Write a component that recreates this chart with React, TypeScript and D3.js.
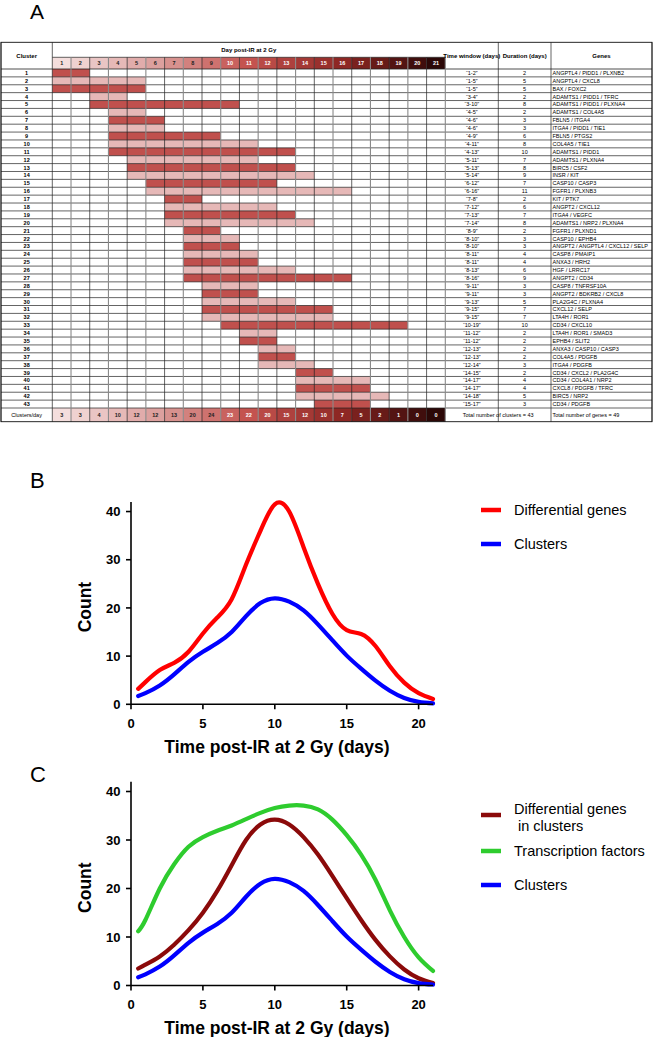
import React from 'react';
import * as d3 from 'd3';

// ---------- Panel A data ----------
const days = [1, 2, 3, 4, 5, 6, 7, 8, 9, 10, 11, 12, 13, 14, 15, 16, 17, 18, 19, 20, 21];
const clusterIds = [
  1, 2, 3, 4, 5, 6, 7, 8, 9, 10, 11, 12, 13, 14, 15, 16, 17, 18, 19, 20, 21, 22,
  23, 24, 25, 26, 27, 28, 29, 30, 31, 32, 33, 34, 35, 36, 37, 38, 39, 40, 41, 42, 43,
];
const windowStart = [1, 1, 1, 3, 3, 4, 4, 4, 4, 4, 4, 5, 5, 5, 6, 6, 7, 7, 7, 7, 8, 8, 8, 8, 8, 8, 8, 9, 9, 9, 9, 9, 10, 11, 11, 12, 12, 12, 14, 14, 14, 14, 15];
const windowEnd = [2, 5, 5, 4, 10, 5, 6, 6, 9, 11, 13, 11, 13, 14, 12, 16, 8, 12, 13, 14, 9, 10, 10, 11, 11, 13, 16, 11, 11, 13, 15, 15, 19, 12, 12, 13, 13, 14, 15, 17, 17, 18, 17];
const durations = [2, 5, 5, 2, 8, 2, 3, 3, 6, 8, 10, 7, 8, 9, 7, 11, 2, 6, 7, 8, 2, 3, 3, 4, 4, 6, 9, 3, 3, 5, 7, 7, 10, 2, 2, 2, 2, 3, 2, 4, 4, 5, 3];
const genes = [
  'ANGPTL4 / PIDD1 / PLXNB2', 'ANGPTL4 / CXCL8', 'BAX / FOXC2', 'ADAMTS1 / PIDD1 / TFRC',
  'ADAMTS1 / PIDD1 / PLXNA4', 'ADAMTS1 / COL4A5', 'FBLN5 / ITGA4', 'ITGA4 / PIDD1 / TIE1',
  'FBLN5 / PTGS2', 'COL4A5 / TIE1', 'ADAMTS1 / PIDD1', 'ADAMTS1 / PLXNA4', 'BIRC5 / CSF2',
  'INSR / KIT', 'CASP10 / CASP3', 'FGFR1 / PLXNB3', 'KIT / PTK7', 'ANGPT2 / CXCL12',
  'ITGA4 / VEGFC', 'ADAMTS1 / NRP2 / PLXNA4', 'FGFR1 / PLXND1', 'CASP10 / EPHB4',
  'ANGPT2 / ANGPTL4 / CXCL12 / SELP', 'CASP8 / PMAIP1', 'ANXA3 / HRH2', 'HGF / LRRC17',
  'ANGPT2 / CD34', 'CASP8 / TNFRSF10A', 'ANGPT2 / BDKRB2 / CXCL8', 'PLA2G4C / PLXNA4',
  'CXCL12 / SELP', 'LTA4H / ROR1', 'CD34 / CXCL10', 'LTA4H / ROR1 / SMAD3', 'EPHB4 / SLIT2',
  'ANXA3 / CASP10 / CASP3', 'COL4A5 / PDGFB', 'ITGA4 / PDGFB', 'CD34 / CXCL2 / PLA2G4C',
  'CD34 / COL4A1 / NRP2', 'CXCL8 / PDGFB / TFRC', 'BIRC5 / NRP2', 'CD34 / PDGFB',
];
const clustersPerDay = [3, 3, 4, 10, 12, 12, 13, 20, 24, 23, 22, 20, 15, 12, 10, 7, 5, 2, 1, 0, 0];
const totalClustersLabel = 'Total number of clusters = 43';
const totalGenesLabel = 'Total number of genes = 49';

// ---------- Panels B & C data ----------
const curveDays = [0.5, 1, 2, 3, 4, 5, 6, 7, 8, 9, 10, 11, 12, 13, 14, 15, 16, 17, 18, 19, 20, 21];
const diffGenes = [3.2, 4.6, 7.1, 8.6, 10.9, 14.7, 18.0, 21.8, 29.0, 36.0, 41.5, 40.0, 32.6, 25.0, 18.8, 15.4, 14.6, 12.1, 7.9, 4.5, 2.3, 1.1];
const clusterCurve = [1.7, 2.3, 3.9, 6.2, 8.8, 10.9, 12.7, 15.0, 18.3, 21.0, 22.0, 21.3, 19.5, 16.6, 13.3, 10.1, 7.4, 4.9, 2.8, 1.3, 0.5, 0.2];
const diffGenesInClusters = [3.5, 4.3, 6.0, 8.4, 11.4, 15.0, 19.5, 24.8, 30.0, 33.2, 34.2, 33.2, 30.6, 27.0, 22.6, 18.0, 13.5, 9.4, 6.0, 3.3, 1.5, 0.5];
const transcriptionFactors = [11.2, 13.5, 20.0, 25.0, 28.6, 30.6, 31.9, 33.0, 34.3, 35.6, 36.6, 37.1, 37.1, 36.3, 34.2, 31.0, 27.0, 21.8, 15.5, 10.0, 5.8, 3.0];
const xTicks = [0, 5, 10, 15, 20];
const yTicks = [0, 10, 20, 30, 40];

const TFONT = "'Liberation Sans Narrow', 'Liberation Sans', Arial, sans-serif";
const CFONT = "'Liberation Sans', Arial, Helvetica, sans-serif";

function Table() {
  const left = 1;
  const right = 652;
  const clusterRight = 52.3;
  const dayRight = 445.3;
  const twRight = 498.3;
  const durRight = 551;
  const headTop = 42.3;
  const dayRowTop = 57.3;
  const rowsTop = 69;
  const rowsBottom = 408;
  const bottomRowBottom = 421.7;

  const x = d3.scaleBand<number>().domain(days).range([clusterRight, dayRight]).padding(0);
  const y = d3.scaleBand<number>().domain(clusterIds).range([rowsTop, rowsBottom]).padding(0);
  const dayColor = d3
    .scaleLinear<string>()
    .domain([1, 6, 11, 16, 21])
    .range(['#F4DEDD', '#DCA09E', '#C4534F', '#8E2724', '#2C0807'])
    .interpolate(d3.interpolateRgb);
  const dark = '#C0504D';
  const light = '#E6B8B7';
  const bw = x.bandwidth();
  const rh = y.bandwidth();

  const vLines: number[] = [left, clusterRight, ...days.map((d) => (x(d) as number) + bw), twRight, durRight, right];

  return (
    <g fontFamily={TFONT}>
      {days.map((d) => (
        <rect key={'h' + d} x={x(d)} y={dayRowTop} width={bw} height={rowsTop - dayRowTop} fill={dayColor(d)} />
      ))}
      {days.map((d) => (
        <rect key={'b' + d} x={x(d)} y={rowsBottom} width={bw} height={bottomRowBottom - rowsBottom} fill={dayColor(d)} />
      ))}
      {clusterIds.map((c, i) => (
        <rect
          key={'bar' + c}
          x={x(windowStart[i])}
          y={y(c)}
          width={(x(windowEnd[i]) as number) + bw - (x(windowStart[i]) as number)}
          height={rh}
          fill={i % 2 === 0 ? dark : light}
        />
      ))}
      {clusterIds.map((c) => (
        <line key={'hl' + c} x1={left} x2={right} y1={(y(c) as number) + rh} y2={(y(c) as number) + rh} stroke="#222" strokeWidth={0.7} />
      ))}
      <line x1={left} x2={right} y1={rowsTop} y2={rowsTop} stroke="#222" strokeWidth={0.8} />
      <line x1={clusterRight} x2={dayRight} y1={dayRowTop} y2={dayRowTop} stroke="#222" strokeWidth={0.7} />
      {vLines.map((vx, i) => (
        <line
          key={'vl' + i}
          x1={vx}
          x2={vx}
          y1={i > 1 && i < vLines.length - 3 ? dayRowTop : headTop}
          y2={bottomRowBottom}
          stroke={i > 1 && i < vLines.length - 3 && i % 2 === 0 ? '#8a8a8a' : '#222'}
          strokeWidth={i > 1 && i < vLines.length - 3 && i % 2 === 0 ? 1.1 : 0.7}
        />
      ))}
      <rect x={left} y={headTop} width={right - left} height={bottomRowBottom - headTop} fill="none" stroke="#111" strokeWidth={0.9} />

      <text x={(left + clusterRight) / 2} y={57.5} textAnchor="middle" fontSize={6} fontWeight="bold">Cluster</text>
      <text x={(clusterRight + dayRight) / 2} y={52} textAnchor="middle" fontSize={6} fontWeight="bold">Day post-IR at 2 Gy</text>
      <text x={(dayRight + twRight) / 2} y={57.5} textAnchor="middle" fontSize={6} fontWeight="bold">Time window (days)</text>
      <text x={(twRight + durRight) / 2} y={57.5} textAnchor="middle" fontSize={6} fontWeight="bold">Duration (days)</text>
      <text x={(durRight + right) / 2} y={57.5} textAnchor="middle" fontSize={6} fontWeight="bold">Genes</text>
      {days.map((d) => (
        <text key={'ht' + d} x={(x(d) as number) + bw / 2} y={65.2} textAnchor="middle" fontSize={5.5} fontWeight="bold" fill={d >= 10 ? '#fff' : '#222'}>
          {d}
        </text>
      ))}

      {clusterIds.map((c, i) => {
        const cy = (y(c) as number) + rh / 2 + 2;
        return (
          <g key={'rt' + c} fontSize={5.5}>
            <text x={(left + clusterRight) / 2} y={cy} textAnchor="middle" fontWeight="bold">{c}</text>
            <text x={(dayRight + twRight) / 2} y={cy} textAnchor="middle">{`\u201C${windowStart[i]}-${windowEnd[i]}\u201D`}</text>
            <text x={(twRight + durRight) / 2} y={cy} textAnchor="middle">{durations[i]}</text>
            <text x={durRight + 1.5} y={cy}>{genes[i]}</text>
          </g>
        );
      })}

      <text x={(left + clusterRight) / 2} y={416.8} textAnchor="middle" fontSize={5.5}>Clusters/day</text>
      {days.map((d, i) => (
        <text key={'bt' + d} x={(x(d) as number) + bw / 2} y={416.8} textAnchor="middle" fontSize={5.5} fontWeight="bold" fill={d >= 10 ? '#fff' : '#222'}>
          {clustersPerDay[i]}
        </text>
      ))}
      <text x={(dayRight + durRight) / 2} y={416.8} textAnchor="middle" fontSize={5.5}>{totalClustersLabel}</text>
      <text x={durRight + 1.5} y={416.8} fontSize={5.5}>{totalGenesLabel}</text>
    </g>
  );
}

type Series = { values: number[]; color: string };
type LegendItem = { lines: string[]; color: string; y: number };

function CurvePanel({ yTop, yZero, series, legend }: { yTop: number; yZero: number; series: Series[]; legend: LegendItem[] }) {
  const x = d3.scaleLinear().domain([0, 21]).range([131, 433]);
  const y = d3.scaleLinear().domain([0, 42]).range([yZero, yTop]);
  const line = d3
    .line<number>()
    .x((_, i) => x(curveDays[i]))
    .y((d) => y(d))
    .curve(d3.curveNatural);
  return (
    <g fontFamily={CFONT}>
      {series.map((s, i) => (
        <path key={i} d={line(s.values) || ''} fill="none" stroke={s.color} strokeWidth={4.2} strokeLinecap="round" strokeLinejoin="round" />
      ))}
      <line x1={x(0)} x2={x(0)} y1={y(42)} y2={y(0)} stroke="#000" strokeWidth={1.6} />
      <line x1={x(0)} x2={x(21)} y1={y(0)} y2={y(0)} stroke="#000" strokeWidth={1.6} />
      {yTicks.map((t) => (
        <g key={'y' + t}>
          <line x1={x(0) - 5} x2={x(0)} y1={y(t)} y2={y(t)} stroke="#000" strokeWidth={1.6} />
          <text x={120.5} y={y(t) + 4.6} textAnchor="end" fontSize={13} fontWeight="bold">{t}</text>
        </g>
      ))}
      {xTicks.map((t) => (
        <g key={'x' + t}>
          <line x1={x(t)} x2={x(t)} y1={y(0)} y2={y(0) + 5} stroke="#000" strokeWidth={1.6} />
          <text x={x(t)} y={y(0) + 23.5} textAnchor="middle" fontSize={13} fontWeight="bold">{t}</text>
        </g>
      ))}
      <text x={277} y={y(0) + 48.5} textAnchor="middle" fontSize={17.5} fontWeight="bold">Time post-IR at 2 Gy (days)</text>
      <text transform={`translate(91,${(y(0) + y(42)) / 2 + 4}) rotate(-90)`} textAnchor="middle" fontSize={17.5} fontWeight="bold">Count</text>
      {legend.map((l, i) => (
        <g key={'lg' + i}>
          <line x1={481} x2={501} y1={l.y} y2={l.y} stroke={l.color} strokeWidth={4.5} />
          {l.lines.map((t, j) => (
            <text key={j} x={j === 0 ? 514 : 518} y={l.y + 5 + j * 16.5 - (l.lines.length > 1 ? 6 : 0)} fontSize={14.5}>{t}</text>
          ))}
        </g>
      ))}
    </g>
  );
}

export default function App() {
  return (
    <svg width={653} height={1037} style={{ position: 'absolute', left: 0, top: 0, background: '#fff' }}>
      <rect x={0} y={0} width={653} height={1037} fill="#fff" />
      <text x={30} y={19} fontSize={21} fontFamily={CFONT}>A</text>
      <Table />
      <text x={30} y={488} fontSize={22} fontFamily={CFONT}>B</text>
      <CurvePanel
        yTop={501.9}
        yZero={704.3}
        series={[
          { values: diffGenes, color: '#FF0000' },
          { values: clusterCurve, color: '#0000FF' },
        ]}
        legend={[
          { lines: ['Differential genes'], color: '#FF0000', y: 510 },
          { lines: ['Clusters'], color: '#0000FF', y: 544 },
        ]}
      />
      <text x={30} y={782} fontSize={22} fontFamily={CFONT}>C</text>
      <CurvePanel
        yTop={781.8}
        yZero={985.5}
        series={[
          { values: transcriptionFactors, color: '#2ECC2E' },
          { values: diffGenesInClusters, color: '#8B0A0A' },
          { values: clusterCurve, color: '#0000FF' },
        ]}
        legend={[
          { lines: ['Differential genes', 'in clusters'], color: '#8B0A0A', y: 815 },
          { lines: ['Transcription factors'], color: '#2ECC2E', y: 851 },
          { lines: ['Clusters'], color: '#0000FF', y: 885 },
        ]}
      />
    </svg>
  );
}
